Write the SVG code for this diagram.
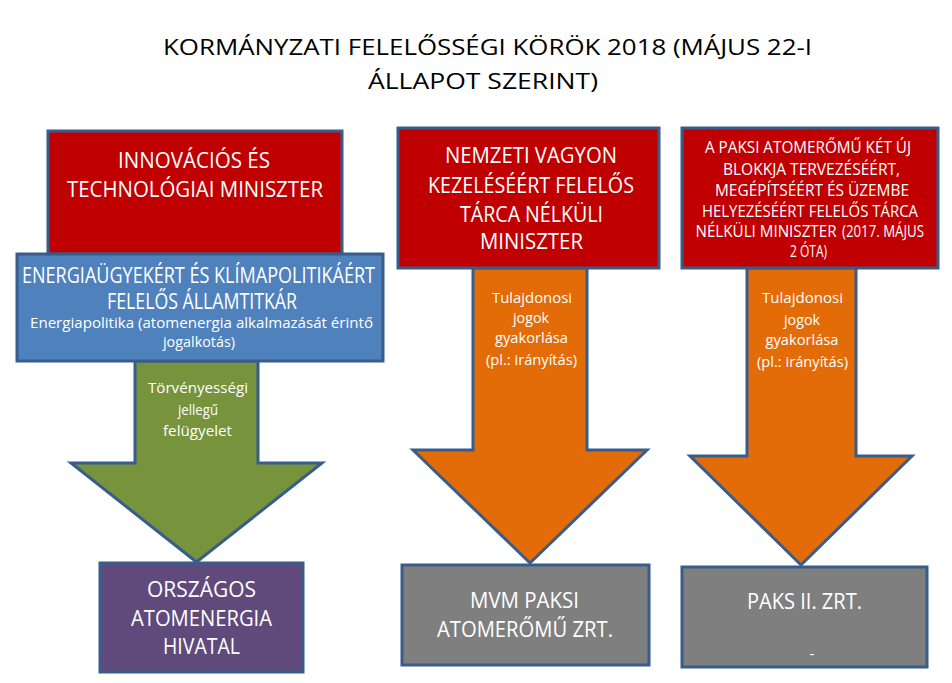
<svg xmlns="http://www.w3.org/2000/svg" width="952" height="683" viewBox="0 0 952 683">
<style>
.box{stroke:#385D8A;stroke-width:3}
.red{fill:#C00000}
.blue{fill:#4F81BD}
.purple{fill:#604A7B}
.grey{fill:#7F7F7F}
.green{fill:#77933C}
.orange{fill:#E36C09}
text{font-family:"Open Sans","Noto Sans","DejaVu Sans",sans-serif;text-anchor:middle}
.t{fill:#FFFFFF;font-size:21px}
.s{fill:#FFFFFF;font-size:15px}
.m{fill:#FFFFFF;font-size:15.5px}
.title{fill:#000000;font-size:22px}
</style>
<rect width="952" height="683" fill="#FFFFFF"/>
<g id="title">
<text class="title" x="487.5" y="55" textLength="649" lengthAdjust="spacingAndGlyphs">KORMÁNYZATI FELELŐSSÉGI KÖRÖK 2018 (MÁJUS 22-I</text>
<text class="title" x="483" y="89" textLength="230" lengthAdjust="spacingAndGlyphs">ÁLLAPOT SZERINT)</text>
</g>
<g id="connectors">
<g id="arrow-green">
<polygon class="box green" points="135,361 258,361 258,463 322,463 196.5,562 71,463 135,463"/>
<text class="s" x="198" y="393" textLength="100" lengthAdjust="spacingAndGlyphs">Törvényességi</text>
<text class="s" x="198" y="415" textLength="40" lengthAdjust="spacingAndGlyphs">jellegű</text>
<text class="s" x="197.5" y="436" textLength="69" lengthAdjust="spacingAndGlyphs">felügyelet</text>
</g>
<g id="arrow-orange-mid">
<polygon class="box orange" points="473,268 587,268 587,450 647,450 530,563 413,450 473,450"/>
<text class="s" x="532" y="303" textLength="80" lengthAdjust="spacingAndGlyphs">Tulajdonosi</text>
<text class="s" x="531" y="323" textLength="36" lengthAdjust="spacingAndGlyphs">jogok</text>
<text class="s" x="531.5" y="343" textLength="73" lengthAdjust="spacingAndGlyphs">gyakorlása</text>
<text class="s" x="531.5" y="365" textLength="91" lengthAdjust="spacingAndGlyphs">(pl.: irányítás)</text>
</g>
<g id="arrow-orange-right">
<polygon class="box orange" points="747,268 856,268 856,456 912,456 801,565 690,456 747,456"/>
<text class="s" x="802.5" y="303" textLength="81" lengthAdjust="spacingAndGlyphs">Tulajdonosi</text>
<text class="s" x="802" y="325" textLength="36" lengthAdjust="spacingAndGlyphs">jogok</text>
<text class="s" x="802" y="345" textLength="73" lengthAdjust="spacingAndGlyphs">gyakorlása</text>
<text class="s" x="802.5" y="367" textLength="91" lengthAdjust="spacingAndGlyphs">(pl.: irányítás)</text>
</g>
</g>
<g id="node-itm">
<rect class="box red" x="48" y="131" width="294" height="123"/>
<text class="t" x="194" y="168" textLength="152" lengthAdjust="spacingAndGlyphs">INNOVÁCIÓS ÉS</text>
<text class="t" x="195" y="197" textLength="256" lengthAdjust="spacingAndGlyphs">TECHNOLÓGIAI MINISZTER</text>
</g>
<g id="node-allamtitkar">
<rect class="box blue" x="17" y="254" width="366" height="107"/>
<text class="t" x="198.5" y="283" font-size="17.5" textLength="353" lengthAdjust="spacingAndGlyphs">ENERGIAÜGYEKÉRT ÉS KLÍMAPOLITIKÁÉRT</text>
<text class="t" x="202" y="308.5" font-size="17.5" textLength="190" lengthAdjust="spacingAndGlyphs">FELELŐS ÁLLAMTITKÁR</text>
<text class="s" x="201.5" y="328" textLength="343" lengthAdjust="spacingAndGlyphs">Energiapolitika (atomenergia alkalmazását érintő</text>
<text class="s" x="199" y="347" textLength="72" lengthAdjust="spacingAndGlyphs">jogalkotás)</text>
</g>
<g id="node-oah">
<rect class="box purple" x="100" y="563" width="203" height="109"/>
<text class="t" x="201.5" y="597" textLength="109" lengthAdjust="spacingAndGlyphs">ORSZÁGOS</text>
<text class="t" x="201.5" y="626" textLength="141" lengthAdjust="spacingAndGlyphs">ATOMENERGIA</text>
<text class="t" x="201.5" y="654" textLength="77" lengthAdjust="spacingAndGlyphs">HIVATAL</text>
</g>
<g id="node-nemzeti">
<rect class="box red" x="398" y="128" width="261" height="140"/>
<text class="t" x="531" y="163" textLength="172" lengthAdjust="spacingAndGlyphs">NEMZETI VAGYON</text>
<text class="t" x="531" y="193" textLength="206" lengthAdjust="spacingAndGlyphs">KEZELÉSÉÉRT FELELŐS</text>
<text class="t" x="531.5" y="222" textLength="143" lengthAdjust="spacingAndGlyphs">TÁRCA NÉLKÜLI</text>
<text class="t" x="531.5" y="249" textLength="103" lengthAdjust="spacingAndGlyphs">MINISZTER</text>
</g>
<g id="node-paksi-miniszter">
<rect class="box red" x="682" y="128" width="256" height="140"/>
<text class="m" x="808" y="153" textLength="206" lengthAdjust="spacingAndGlyphs">A PAKSI ATOMERŐMŰ KÉT ÚJ</text>
<text class="m" x="811.5" y="175" textLength="177" lengthAdjust="spacingAndGlyphs">BLOKKJA TERVEZÉSÉÉRT,</text>
<text class="m" x="812" y="196" textLength="194" lengthAdjust="spacingAndGlyphs">MEGÉPÍTSÉÉRT ÉS ÜZEMBE</text>
<text class="m" x="810" y="217" textLength="216" lengthAdjust="spacingAndGlyphs">HELYEZÉSÉÉRT FELELŐS TÁRCA</text>
<text class="m" x="766" y="237" textLength="141" lengthAdjust="spacingAndGlyphs">NÉLKÜLI MINISZTER</text>
<text class="m" x="883" y="237" font-size="11" textLength="82" lengthAdjust="spacingAndGlyphs">(2017. MÁJUS</text>
<text class="m" x="808.5" y="257" font-size="11" textLength="37" lengthAdjust="spacingAndGlyphs">2 ÓTA)</text>
</g>
<g id="node-mvm">
<rect class="box grey" x="402" y="565" width="247" height="100"/>
<text class="t" x="524.5" y="608" textLength="109" lengthAdjust="spacingAndGlyphs">MVM PAKSI</text>
<text class="t" x="525" y="637" textLength="176" lengthAdjust="spacingAndGlyphs">ATOMERŐMŰ ZRT.</text>
</g>
<g id="node-paks2">
<rect class="box grey" x="682" y="567" width="245" height="100"/>
<text class="t" x="804.5" y="609" textLength="115" lengthAdjust="spacingAndGlyphs">PAKS II. ZRT.</text>
<text class="s" x="812" y="659" font-size="8">-</text>
</g>
</svg>
